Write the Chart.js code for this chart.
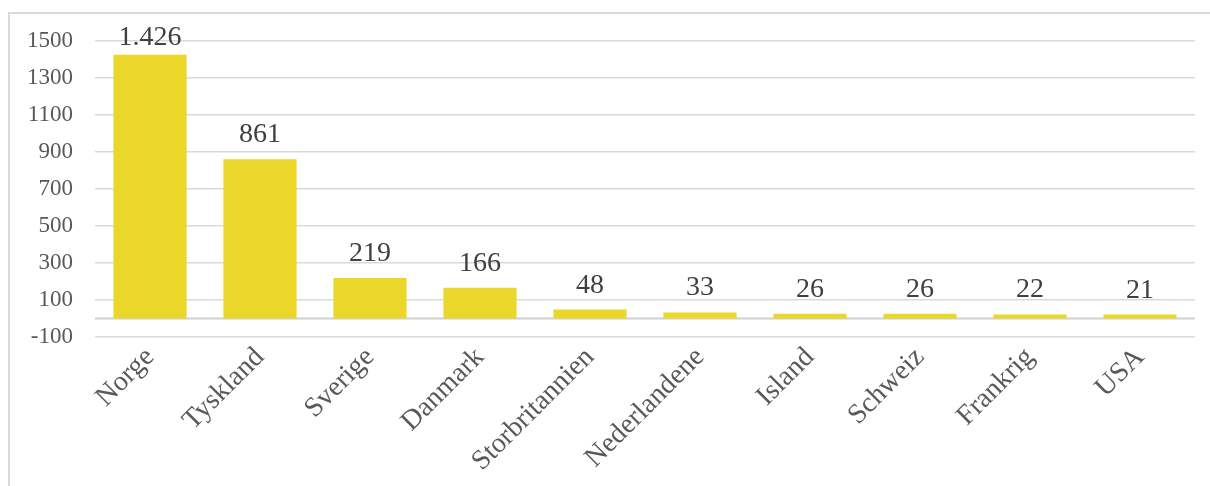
<!DOCTYPE html>
<html>
<head>
<meta charset="utf-8">
<script src="https://cdn.jsdelivr.net/npm/chart.js@4/dist/chart.umd.min.js"></script>
<style>
  html, body { margin: 0; padding: 0; background: #fff; overflow: hidden; }
  #wrap { position: relative; width: 1210px; height: 486px; }
  #frame { position: absolute; left: 8px; top: 12px; width: 1400px; height: 600px;
           border-left: 2px solid #d9d9d9; border-top: 2px solid #d9d9d9; }
  canvas { position: absolute; left: 0; top: 0; }
</style>
</head>
<body>
<div id="wrap">
  <div id="frame"></div>
  <canvas id="chart" width="1210" height="486"></canvas>
</div>
<script>
// data
const categories = ['Norge', 'Tyskland', 'Sverige', 'Danmark', 'Storbritannien', 'Nederlandene', 'Island', 'Schweiz', 'Frankrig', 'USA'];
const values = [1426, 861, 219, 166, 48, 33, 26, 26, 22, 21];
const yMin = -100, yMax = 1500, yStep = 200;

const serif = "'Liberation Serif', 'Times New Roman', serif";

// dansk tusindtals-punktum
function fmt(v) {
    return String(v).replace(/\B(?=(\d{3})+(?!\d))/g, '.');
}

// værdier over søjlerne + nul-linje
const labelsPlugin = {
    id: 'barLabels',
    beforeDatasetsDraw(chart) {
        const ctx = chart.ctx, y = chart.scales.y, area = chart.chartArea;
        const y0 = y.getPixelForValue(0);
        ctx.save();
        ctx.strokeStyle = '#d0d0d0';
        ctx.lineWidth = 2;
        ctx.beginPath();
        ctx.moveTo(area.left, y0);
        ctx.lineTo(area.right, y0);
        ctx.stroke();
        ctx.restore();
    },
    afterDatasetsDraw(chart) {
        const ctx = chart.ctx;
        const meta = chart.getDatasetMeta(0);
        ctx.save();
        ctx.font = '28px ' + serif;
        ctx.fillStyle = '#404040';
        ctx.textAlign = 'center';
        ctx.textBaseline = 'alphabetic';
        meta.data.forEach((bar, i) => {
            const yy = Math.max(bar.y - 17, 45);
            ctx.fillText(fmt(values[i]), bar.x, yy);
        });
        ctx.restore();
    }
};

new Chart(document.getElementById('chart').getContext('2d'), {
    type: 'bar',
    data: {
        labels: categories,
        datasets: [{
            data: values,
            backgroundColor: '#ebd62a',
            borderWidth: 0,
            categoryPercentage: 1,
            barPercentage: 0.665
        }]
    },
    options: {
        responsive: false,
        animation: false,
        devicePixelRatio: 1,
        layout: { padding: { left: 0, top: 41, right: 15, bottom: 0 } },
        plugins: { legend: { display: false }, tooltip: { enabled: false } },
        scales: {
            x: {
                grid: { display: false },
                border: { display: false },
                ticks: {
                    minRotation: 45, maxRotation: 45, autoSkip: false,
                    color: '#595959', padding: -4,
                    font: { family: serif, size: 28 }
                },
                afterFit(scale) { scale.height = 149; }
            },
            y: {
                min: yMin, max: yMax,
                border: { display: false },
                grid: { color: '#d9d9d9', lineWidth: 1.5, drawTicks: false },
                ticks: {
                    stepSize: yStep, color: '#595959', padding: 22,
                    font: { family: serif, size: 23 },
                    callback: (v) => String(v)
                },
                afterFit(scale) { scale.width = 95; }
            }
        }
    },
    plugins: [labelsPlugin]
});
</script>
</body>
</html>
